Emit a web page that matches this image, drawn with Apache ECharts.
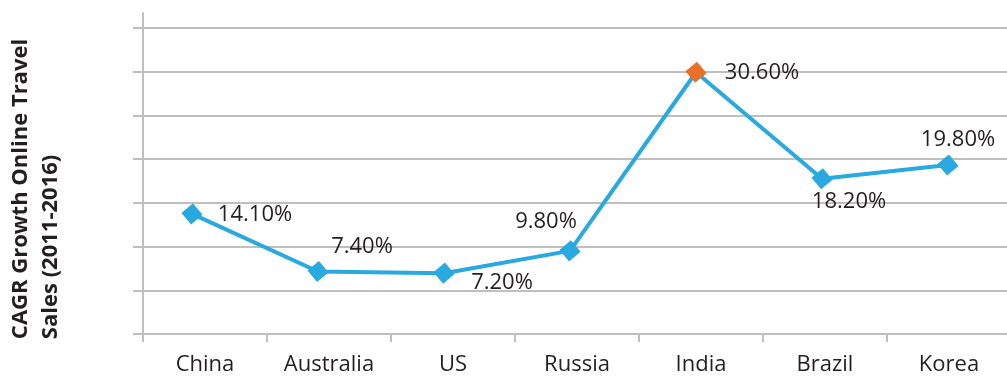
<!DOCTYPE html>
<html>
<head>
<meta charset="utf-8">
<script src="https://cdn.jsdelivr.net/npm/echarts@6/dist/echarts.min.js"></script>
<style>
html,body{margin:0;padding:0;background:#fff;}
#c{width:1007px;height:379px;}
</style>
</head>
<body>
<div id="c"></div>
<script>
var categories = ['China', 'Australia', 'US', 'Russia', 'India', 'Brazil', 'Korea'];
var values = [14.1, 7.4, 7.2, 9.8, 30.6, 18.2, 19.8];
var valueLabels = ['14.10%', '7.40%', '7.20%', '9.80%', '30.60%', '18.20%', '19.80%'];
var yTitleLines = ['CAGR Growth Online Travel', 'Sales (2011-2016)'];

// label placement (style only)
var labelOffsets = [[63, 1], [44, -25], [58, 10], [-24, -29], [66, 0], [27, 23], [10, -25]];
var highlightIndex = 4;

var FONT = '"Open Sans", sans-serif';
var GRID_C = '#bfbfbf';
var LINE_C = '#29a9e0';
var HI_C = '#e8702a';

var seriesData = values.map(function (v, i) {
  var item = {
    value: v,
    label: {
      show: true,
      position: 'inside',
      align: 'center',
      verticalAlign: 'middle',
      offset: labelOffsets[i],
      formatter: valueLabels[i],
      fontFamily: FONT,
      fontSize: 22,
      color: '#231f20'
    }
  };
  if (i === highlightIndex) item.itemStyle = { color: HI_C };
  return item;
});

var titleStyle = { fontFamily: FONT, fontSize: 22, fontWeight: 'bold', color: '#231f20', lineHeight: 30, align: 'left' };

var chart = echarts.init(document.getElementById('c'), null, { renderer: 'canvas' });
chart.setOption({
  animation: false,
  backgroundColor: '#ffffff',
  grid: [
    { left: 143, top: 28, bottom: 45, width: 868, outerBoundsMode: 'none', containLabel: false },
    { left: 143, top: 13, bottom: 45, width: 868, outerBoundsMode: 'none', containLabel: false },
    { left: 129, top: 13, bottom: 44, width: 882, outerBoundsMode: 'none', containLabel: false }
  ],
  xAxis: [
    {
      gridIndex: 0, type: 'category', data: categories, boundaryGap: true,
      axisLine: { show: true, lineStyle: { color: GRID_C, width: 2 } },
      axisTick: { show: true, length: 8, alignWithLabel: false, lineStyle: { color: GRID_C, width: 2 } },
      axisLabel: { fontFamily: FONT, fontSize: 22, color: '#231f20', margin: 20 }
    },
    { gridIndex: 1, type: 'category', data: categories, show: false },
    { gridIndex: 2, type: 'category', data: categories, boundaryGap: true, show: false }
  ],
  yAxis: [
    {
      gridIndex: 0, type: 'value', min: 0, max: 7, interval: 1,
      axisLine: { show: true, lineStyle: { color: GRID_C, width: 2 } },
      axisTick: { show: true, length: 10, lineStyle: { color: GRID_C, width: 2 } },
      axisLabel: { show: false },
      splitLine: { show: true, lineStyle: { color: GRID_C, width: 2 } },
      name: yTitleLines.map(function (s) { return '{t|' + s + '}'; }).join('\n'),
      nameLocation: 'middle',
      nameRotate: 90,
      nameGap: 77,
      nameTextStyle: {
        fontFamily: FONT, fontSize: 22, fontWeight: 'bold', color: '#231f20', lineHeight: 30,
        align: 'center', padding: [0, 16, 0, 0],
        rich: { t: titleStyle }
      }
    },
    {
      gridIndex: 1, type: 'value', min: 0, max: 1,
      axisLine: { show: true, lineStyle: { color: GRID_C, width: 2 } },
      axisTick: { show: false }, axisLabel: { show: false }, splitLine: { show: false }
    },
    {
      gridIndex: 2, type: 'value', min: 0, max: 37.5, show: false,
      splitLine: { show: false }
    }
  ],
  series: [{
    type: 'line',
    xAxisIndex: 2,
    yAxisIndex: 2,
    data: seriesData,
    symbol: 'rect',
    symbolSize: 15,
    symbolRotate: 40,
    showAllSymbol: true,
    lineStyle: { color: LINE_C, width: 4 },
    itemStyle: { color: LINE_C },
    z: 5
  }]
});
</script>
</body>
</html>
